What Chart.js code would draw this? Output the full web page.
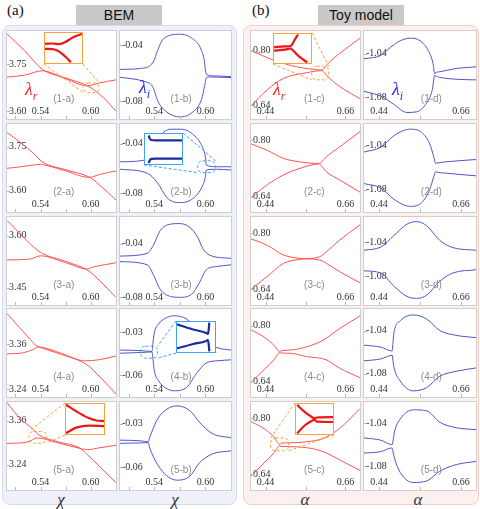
<!DOCTYPE html>
<html>
<head>
<meta charset="utf-8">
<script src="https://cdn.jsdelivr.net/npm/chart.js@4.4.1/dist/chart.umd.min.js"></script>
<style>
body { margin: 0; width: 480px; height: 509px; position: relative; overflow: hidden; background: #fff; font-family: "Liberation Sans", Arial, sans-serif; }
.bg { position: absolute; top: 25px; height: 480px; border-radius: 8px; box-sizing: border-box; }
.title { position: absolute; top: 5px; height: 20px; width: 86px; background: #c9c9c9; text-align: center; line-height: 20px; font-size: 14px; color: #111; }
.serif { font-family: "Liberation Serif", "DejaVu Serif", serif; }
.tag { position: absolute; top: 2px; font-size: 15px; color: #111; }
.box { position: absolute; box-sizing: border-box; border: 1px solid #cfcfcf; background: #fff; }
.box canvas { position: absolute; left: 0; top: 0; }
.sub { position: absolute; font-size: 10px; color: #8c8c8c; transform: translateX(-50%); white-space: nowrap; }
.lam { position: absolute; font-style: italic; font-size: 18px; }
.lam sub { font-size: 12px; }
.ax { position: absolute; top: 490px; font-style: italic; font-size: 17px; color: #333; transform: translateX(-50%); }
.inset { position: absolute; box-sizing: border-box; background: #fff; }
</style>
</head>
<body>
<div class="bg" style="left:2px;width:235px;background:#eef0fa;border:1px solid #d6dbef"></div>
<div class="bg" style="left:243px;width:236px;background:#fdf1ef;border:1px solid #f2cfc8"></div>
<div class="tag serif" style="left:7px">(a)</div>
<div class="tag serif" style="left:252px">(b)</div>
<div class="title" style="left:76px">BEM</div>
<div class="title" style="left:318px">Toy model</div>
<div class="ax serif" style="left:61px">χ</div>
<div class="ax serif" style="left:175px">χ</div>
<div class="ax serif" style="left:305px">α</div>
<div class="ax serif" style="left:418px">α</div>

<script>
// axis ticks
const bemXTicks = [0.54, 0.60];
const toyXTicks = [0.44, 0.66];
const bemXMarks = [0.51, 0.54, 0.57, 0.60];
const toyXMarks = [0.44, 0.55, 0.66];
const aYTicks = [[3.60, 3.75], [3.60, 3.75], [3.45, 3.60], [3.24, 3.36], [3.24, 3.36]];
const bYTicks = [[-0.08, -0.04], [-0.08, -0.04], [-0.08, -0.04], [-0.06, -0.03], [-0.06, -0.03]];
const cYTicks = [0.64, 0.80];
const dYTicks = [-1.08, -1.04];
const aYRange = [[3.575, 3.856], [3.527, 3.827], [3.400, 3.654], [3.219, 3.455], [3.171, 3.411]];
const bYRange = [[-0.0928, -0.030], [-0.095, -0.024], [-0.0856, -0.0201], [-0.0749, -0.0140], [-0.0758, -0.0149]];
const cYRange = [[0.6005, 0.8545], [0.5967, 0.845], [0.5953, 0.8466], [0.594, 0.848], [0.5953, 0.8466]];
const dYRange = [[-1.100, -1.019], [-1.1004, -1.0204], [-1.1135, -1.0106], [-1.1018, -1.020], [-1.1021, -1.0203]];

// BEM, real parts
const a1r1 = [[0.500,3.847],[0.521,3.793],[0.542,3.734],[0.570,3.706],[0.598,3.678],[0.615,3.643],[0.630,3.600]];
const a1r2 = [[0.500,3.709],[0.521,3.715],[0.542,3.729],[0.570,3.703],[0.596,3.681],[0.601,3.683],[0.610,3.690],[0.630,3.700]];
const a2r1 = [[0.500,3.798],[0.516,3.764],[0.532,3.726],[0.542,3.698],[0.570,3.671],[0.600,3.643],[0.610,3.620],[0.630,3.568]];
const a2r2 = [[0.500,3.676],[0.516,3.681],[0.540,3.689],[0.548,3.685],[0.570,3.667],[0.598,3.645],[0.603,3.648],[0.612,3.656],[0.630,3.667]];
const a3r1 = [[0.500,3.644],[0.516,3.605],[0.532,3.567],[0.542,3.549],[0.570,3.526],[0.595,3.502],[0.601,3.492],[0.630,3.422]];
const a3r2 = [[0.500,3.530],[0.528,3.533],[0.540,3.542],[0.570,3.522],[0.596,3.504],[0.602,3.509],[0.630,3.522]];
const a4r1 = [[0.500,3.443],[0.515,3.405],[0.525,3.380],[0.534,3.358],[0.5375,3.354],[0.565,3.333],[0.595,3.306],[0.612,3.270],[0.630,3.227]];
const a4r2 = [[0.500,3.3345],[0.520,3.338],[0.5316,3.347],[0.5375,3.353],[0.565,3.336],[0.5925,3.316],[0.610,3.319],[0.630,3.329]];
const a5r1 = [[0.500,3.409],[0.516,3.365],[0.5305,3.338],[0.5375,3.322],[0.560,3.303],[0.587,3.285],[0.596,3.267],[0.610,3.236],[0.630,3.191]];
const a5r2 = [[0.500,3.298],[0.525,3.302],[0.536,3.313],[0.560,3.300],[0.590,3.283],[0.596,3.281],[0.610,3.286],[0.630,3.293]];

// BEM, imaginary parts
const b1i1 = [[0.500,-0.0574],[0.524,-0.0567],[0.539,-0.0521],[0.544,-0.0439],[0.551,-0.0355],[0.570,-0.0323],[0.585,-0.0355],[0.5955,-0.0439],[0.599,-0.0521],[0.600,-0.0580],[0.602,-0.0614],[0.613,-0.0621],[0.630,-0.0626]];
const b1i2 = [[0.500,-0.0630],[0.528,-0.0660],[0.538,-0.0695],[0.545,-0.0809],[0.555,-0.0879],[0.570,-0.0913],[0.585,-0.0879],[0.5955,-0.0788],[0.599,-0.0695],[0.601,-0.0635],[0.605,-0.0628],[0.630,-0.0632]];
const b2i1 = [[0.500,-0.0545],[0.528,-0.0532],[0.539,-0.0427],[0.547,-0.0335],[0.559,-0.0282],[0.572,-0.0282],[0.585,-0.0321],[0.5966,-0.0427],[0.600,-0.0506],[0.601,-0.0571],[0.613,-0.0585],[0.630,-0.0585]];
const b2i2 = [[0.500,-0.0605],[0.532,-0.0637],[0.544,-0.0716],[0.555,-0.0834],[0.568,-0.0874],[0.584,-0.0848],[0.5955,-0.0755],[0.600,-0.0664],[0.601,-0.0611],[0.613,-0.0605],[0.630,-0.0611]];
const b3i1 = [[0.500,-0.0492],[0.532,-0.0472],[0.539,-0.0412],[0.547,-0.0303],[0.559,-0.0254],[0.570,-0.0250],[0.582,-0.0279],[0.591,-0.0352],[0.597,-0.0436],[0.605,-0.0485],[0.630,-0.0509]];
const b3i2 = [[0.500,-0.0533],[0.532,-0.0557],[0.539,-0.0630],[0.547,-0.0739],[0.559,-0.0792],[0.570,-0.0799],[0.584,-0.0775],[0.593,-0.0690],[0.601,-0.0594],[0.613,-0.0570],[0.630,-0.0557]];
const b4i1 = [[0.500,-0.0424],[0.525,-0.0428],[0.5375,-0.0434],[0.5385,-0.038],[0.540,-0.031],[0.545,-0.0245],[0.553,-0.0205],[0.563,-0.0187],[0.578,-0.0209],[0.593,-0.030],[0.605,-0.038],[0.615,-0.041],[0.630,-0.0424]];
const b4i2 = [[0.500,-0.0446],[0.525,-0.0441],[0.5375,-0.0437],[0.5385,-0.048],[0.540,-0.056],[0.545,-0.0635],[0.553,-0.0685],[0.563,-0.0706],[0.578,-0.0683],[0.590,-0.0582],[0.601,-0.0514],[0.615,-0.0498],[0.630,-0.0492]];
const b5i1 = [[0.500,-0.0413],[0.525,-0.0418],[0.533,-0.0425],[0.5345,-0.040],[0.537,-0.036],[0.544,-0.0266],[0.555,-0.0198],[0.567,-0.0176],[0.582,-0.021],[0.593,-0.0289],[0.608,-0.0367],[0.630,-0.0397]];
const b5i2 = [[0.500,-0.0435],[0.525,-0.0432],[0.533,-0.0430],[0.5345,-0.046],[0.537,-0.050],[0.544,-0.0582],[0.555,-0.0661],[0.567,-0.069],[0.582,-0.0661],[0.593,-0.057],[0.608,-0.0509],[0.630,-0.0487]];

// toy model, real parts
const c1r1 = [[0.40,0.798],[0.463,0.770],[0.526,0.751],[0.571,0.744],[0.594,0.742],[0.599,0.744],[0.605,0.752],[0.616,0.765],[0.643,0.789],[0.70,0.834]];
const c1r2 = [[0.40,0.638],[0.445,0.685],[0.49,0.718],[0.553,0.734],[0.594,0.740],[0.599,0.738],[0.605,0.730],[0.616,0.718],[0.643,0.695],[0.70,0.659]];
const c2r1 = [[0.40,0.789],[0.445,0.7705],[0.49,0.7476],[0.535,0.7382],[0.589,0.7335],[0.594,0.738],[0.607,0.752],[0.643,0.7796],[0.70,0.8238]];
const c2r2 = [[0.40,0.6372],[0.445,0.6739],[0.49,0.7015],[0.535,0.720],[0.589,0.7325],[0.594,0.727],[0.607,0.7106],[0.643,0.6877],[0.70,0.6527]];
const c3r1 = [[0.40,0.7843],[0.445,0.7656],[0.49,0.7377],[0.535,0.7285],[0.589,0.7238],[0.607,0.7145],[0.643,0.6911],[0.70,0.6587]];
const c3r2 = [[0.40,0.640],[0.445,0.6771],[0.49,0.7145],[0.535,0.7257],[0.589,0.7330],[0.607,0.7469],[0.643,0.7796],[0.70,0.8243]];
const c4r1 = [[0.40,0.7879],[0.436,0.767],[0.463,0.7436],[0.4792,0.7247],[0.483,0.7275],[0.508,0.7295],[0.553,0.7388],[0.598,0.7577],[0.643,0.7907],[0.70,0.8282]];
const c4r2 = [[0.40,0.6355],[0.436,0.673],[0.463,0.7013],[0.4792,0.7225],[0.483,0.7210],[0.508,0.7202],[0.553,0.7106],[0.607,0.7013],[0.643,0.6778],[0.70,0.6496]];
const c5r1 = [[0.40,0.7908],[0.436,0.7704],[0.463,0.7469],[0.4792,0.7257],[0.483,0.729],[0.508,0.7302],[0.553,0.733],[0.598,0.7425],[0.643,0.7704],[0.70,0.8279]];
const c5r2 = [[0.40,0.6352],[0.436,0.6727],[0.463,0.7006],[0.4792,0.7218],[0.483,0.7195],[0.508,0.719],[0.553,0.7162],[0.598,0.705],[0.643,0.6819],[0.70,0.6512]];

// toy model, imaginary parts
const d1i1 = [[0.40,-1.0445],[0.445,-1.0415],[0.471,-1.034],[0.497,-1.028],[0.524,-1.0256],[0.55,-1.028],[0.572,-1.037],[0.585,-1.049],[0.5895,-1.0586],[0.5905,-1.0578],[0.603,-1.0565],[0.647,-1.0535],[0.70,-1.052]];
const d1i2 = [[0.40,-1.0745],[0.445,-1.079],[0.48,-1.0865],[0.515,-1.094],[0.541,-1.0934],[0.568,-1.085],[0.583,-1.073],[0.5895,-1.0596],[0.5905,-1.060],[0.603,-1.0616],[0.647,-1.0634],[0.70,-1.064]];
const d2i1 = [[0.40,-1.0459],[0.445,-1.0415],[0.48,-1.031],[0.524,-1.0251],[0.5545,-1.0281],[0.576,-1.0384],[0.587,-1.0504],[0.592,-1.0562],[0.594,-1.0560],[0.620,-1.0548],[0.70,-1.0527]];
const d2i2 = [[0.40,-1.0746],[0.445,-1.0785],[0.48,-1.0888],[0.524,-1.0953],[0.5545,-1.0918],[0.576,-1.080],[0.587,-1.0681],[0.592,-1.0637],[0.594,-1.0640],[0.620,-1.0651],[0.70,-1.0675]];
const d3i1 = [[0.40,-1.0495],[0.445,-1.0457],[0.48,-1.0323],[0.515,-1.019],[0.541,-1.016],[0.568,-1.0209],[0.603,-1.038],[0.638,-1.0464],[0.70,-1.0495]];
const d3i2 = [[0.40,-1.0735],[0.445,-1.0761],[0.48,-1.0914],[0.515,-1.1035],[0.541,-1.1058],[0.568,-1.102],[0.603,-1.0857],[0.638,-1.0761],[0.70,-1.0723]];
const d4i1 = [[0.40,-1.0536],[0.445,-1.0555],[0.4755,-1.059],[0.4775,-1.052],[0.4797,-1.043],[0.4974,-1.0309],[0.532,-1.0255],[0.568,-1.0294],[0.603,-1.040],[0.647,-1.0445],[0.70,-1.0466]];
const d4i2 = [[0.40,-1.0682],[0.445,-1.0664],[0.4755,-1.063],[0.4775,-1.068],[0.4797,-1.0734],[0.4974,-1.087],[0.532,-1.0961],[0.568,-1.093],[0.603,-1.0825],[0.647,-1.0779],[0.70,-1.0748]];
const d5i1 = [[0.40,-1.0537],[0.445,-1.0558],[0.4755,-1.060],[0.478,-1.056],[0.4816,-1.0482],[0.4974,-1.036],[0.532,-1.0276],[0.568,-1.0285],[0.603,-1.0391],[0.647,-1.0442],[0.70,-1.046]];
const d5i2 = [[0.40,-1.0678],[0.445,-1.0664],[0.4755,-1.063],[0.478,-1.067],[0.4816,-1.0724],[0.4974,-1.086],[0.532,-1.0951],[0.568,-1.0937],[0.603,-1.0846],[0.647,-1.0785],[0.70,-1.0755]];

// zoomed insets (arbitrary 0..1 units)
const in1aUp = [[0,0.64],[0.2,0.65],[0.4,0.63],[0.55,0.7],[0.75,0.85],[1,0.97]];
const in1aLo = [[0,0.47],[0.2,0.46],[0.3,0.43],[0.45,0.32],[0.6,0.15],[0.7,0.03]];
const in2bUp = [[0.1,0.95],[0.13,0.85],[0.17,0.8],[0.3,0.79],[1,0.79]];
const in2bLo = [[0.1,0.03],[0.13,0.12],[0.17,0.17],[0.3,0.18],[1,0.18]];
const in4bUp = [[0,0.92],[0.4,0.76],[0.77,0.63],[0.81,0.60],[0.835,0.75],[0.85,0.98]];
const in4bLo = [[0,0.12],[0.4,0.26],[0.77,0.37],[0.81,0.40],[0.835,0.25],[0.85,0.02]];
const in5aUp = [[0,0.98],[0.29,0.74],[0.58,0.54],[0.8,0.45],[1,0.43]];
const in5aLo = [[0,0.03],[0.29,0.22],[0.6,0.28],[1,0.26]];
const in1cUp = [[0,0.55],[0.3,0.57],[0.45,0.58],[0.5,0.66],[0.58,0.85],[0.65,0.98]];
const in1cLo = [[0,0.43],[0.3,0.46],[0.45,0.5],[0.5,0.45],[0.7,0.2],[0.9,0.02]];
const in5cUp = [[0.03,0.97],[0.25,0.72],[0.45,0.55],[0.5,0.52],[0.56,0.55],[1,0.56]];
const in5cLo = [[0.03,0.02],[0.25,0.3],[0.45,0.45],[0.5,0.48],[0.56,0.41],[1,0.4]];

const curves = [
  [[a1r1,a1r2],[b1i1,b1i2],[c1r1,c1r2],[d1i1,d1i2]],
  [[a2r1,a2r2],[b2i1,b2i2],[c2r1,c2r2],[d2i1,d2i2]],
  [[a3r1,a3r2],[b3i1,b3i2],[c3r1,c3r2],[d3i1,d3i2]],
  [[a4r1,a4r2],[b4i1,b4i2],[c4r1,c4r2],[d4i1,d4i2]],
  [[a5r1,a5r2],[b5i1,b5i2],[c5r1,c5r2],[d5i1,d5i2]]
];

const insets = {
  '1-a': {box:{x:37,y:1,w:39,h:32}, region:[0.591,0.610,3.659,3.690], links:[['bl','bl'],['br','tr']], up:in1aUp, lo:in1aLo, blue:false},
  '2-b': {box:{x:24,y:9,w:39,h:32}, region:[0.591,0.612,-0.0632,-0.0537], links:[['tr','tr'],['bl','bl']], up:in2bUp, lo:in2bLo, blue:true},
  '4-b': {box:{x:56,y:12,w:40,h:32}, region:[0.524,0.544,-0.048,-0.0397], links:[['tl','tr'],['bl','br']], up:in4bUp, lo:in4bLo, blue:true},
  '5-a': {box:{x:58,y:1,w:40,h:32}, region:[0.526,0.547,3.2987,3.3307], links:[['tl','tl'],['bl','br']], up:in5aUp, lo:in5aLo, blue:false},
  '1-c': {box:{x:22,y:2,w:39,h:31}, region:[0.567,0.614,0.7134,0.7529], links:[['tr','tr'],['bl','bl']], up:in1cUp, lo:in1cLo, blue:false},
  '5-c': {box:{x:44,y:1,w:39,h:32}, region:[0.454,0.5035,0.707,0.7441], links:[['tl','tl'],['br','br']], up:in5cUp, lo:in5cLo, blue:false}
};

const cols = [{x:6,w:111},{x:119,w:113},{x:250,w:111},{x:363,w:114}];
const subPos = [0.52, 0.55, 0.58, 0.60];
const rowTops = [30,123,216,308,401];
const rowH = 90;

function toXY(arr) { return arr.map(p => ({x: p[0], y: p[1]})); }

// small inward tick marks on the bottom and left frame
function edgeTicks(xm, ym) {
  return {
    id: 'edgeTicks',
    afterDraw(chart) {
      const {ctx, scales, chartArea} = chart;
      ctx.save();
      ctx.strokeStyle = '#b5b5b5';
      ctx.lineWidth = 1;
      ctx.beginPath();
      xm.forEach(v => {
        const px = Math.round(scales.x.getPixelForValue(v)) + 0.5;
        ctx.moveTo(px, chartArea.bottom);
        ctx.lineTo(px, chartArea.bottom - 3);
      });
      ym.forEach(v => {
        const py = Math.round(scales.y.getPixelForValue(v)) + 0.5;
        ctx.moveTo(chartArea.left, py);
        ctx.lineTo(chartArea.left + 3, py);
      });
      ctx.stroke();
      ctx.restore();
    }
  };
}

function insetLines(ins) {
  return {
    id: 'insetLines',
    afterDatasetsDraw(chart) {
      const {ctx, scales} = chart;
      const x0 = scales.x.getPixelForValue(ins.region[0]);
      const x1 = scales.x.getPixelForValue(ins.region[1]);
      const y0 = scales.y.getPixelForValue(ins.region[3]);
      const y1 = scales.y.getPixelForValue(ins.region[2]);
      const r = {x: x0, y: y0, w: x1 - x0, h: y1 - y0};
      const pt = (q, c) => [c[1] === 'l' ? q.x : q.x + q.w, c[0] === 't' ? q.y : q.y + q.h];
      ctx.save();
      ctx.strokeStyle = ins.blue ? '#3fa2f2' : '#f5a33a';
      ctx.lineWidth = 1;
      ctx.setLineDash([3, 2]);
      ctx.beginPath();
      ctx.roundRect(r.x, r.y, r.w, r.h, 5);
      ctx.stroke();
      ins.links.forEach(l => {
        const p = pt(ins.box, l[0]), q = pt(r, l[1]);
        ctx.beginPath();
        ctx.moveTo(p[0], p[1]);
        ctx.lineTo(q[0], q[1]);
        ctx.stroke();
      });
      ctx.restore();
    }
  };
}

const tickFont = {family: '"Liberation Serif", "DejaVu Serif", serif', size: 10};

function makePanel(row, col) {
  const L = cols[col];
  const name = (row + 1) + '-' + 'abcd'[col];
  const box = document.createElement('div');
  box.className = 'box';
  box.style.left = L.x + 'px';
  box.style.top = rowTops[row] + 'px';
  box.style.width = L.w + 'px';
  box.style.height = rowH + 'px';
  const cv = document.createElement('canvas');
  cv.width = L.w - 2;
  cv.height = rowH - 2;
  box.appendChild(cv);
  document.body.appendChild(box);

  const isBem = col < 2;
  const isReal = col % 2 === 0;
  const xr = isBem ? [0.50, 0.63] : [0.40, 0.70];
  const xt = isBem ? bemXTicks : toyXTicks;
  const xm = isBem ? bemXMarks : toyXMarks;
  const yr = [aYRange, bYRange, cYRange, dYRange][col][row];
  const yt = [aYTicks[row], bYTicks[row], cYTicks, dYTicks][col];
  const color = isReal ? '#ff5252' : '#5353c6';
  const ins = insets[name];
  const plugins = [edgeTicks(xm, yt)];
  if (ins) plugins.push(insetLines(ins));

  new Chart(cv, {
    type: 'line',
    data: {
      datasets: curves[row][col].map(c => ({
        data: toXY(c), borderColor: color, borderWidth: 1, pointRadius: 0,
        cubicInterpolationMode: 'monotone', fill: false
      }))
    },
    options: {
      responsive: false, animation: false, events: [],
      layout: {padding: 0},
      plugins: {legend: {display: false}, tooltip: {enabled: false}},
      scales: {
        x: {
          type: 'linear', min: xr[0], max: xr[1],
          border: {display: false}, grid: {display: false, drawTicks: false},
          afterBuildTicks: s => { s.ticks = xt.map(v => ({value: v})); },
          afterFit: s => { s.height = 0; s.paddingLeft = 0; s.paddingRight = 0; s.paddingTop = 0; s.paddingBottom = 0; },
          ticks: {mirror: true, padding: 2, font: tickFont, color: '#333', maxRotation: 0, autoSkip: false,
                  callback: v => v.toFixed(2)}
        },
        y: {
          type: 'linear', min: yr[0], max: yr[1],
          border: {display: false}, grid: {display: false, drawTicks: false},
          afterBuildTicks: s => { s.ticks = yt.map(v => ({value: v})); },
          afterFit: s => { s.width = 0; s.paddingLeft = 0; s.paddingRight = 0; s.paddingTop = 0; s.paddingBottom = 0; },
          ticks: {mirror: true, padding: 2, font: tickFont, color: '#333', autoSkip: false,
                  callback: v => v.toFixed(2)}
        }
      }
    },
    plugins: plugins
  });

  const sub = document.createElement('div');
  sub.className = 'sub';
  sub.textContent = '(' + name + ')';
  sub.style.left = (L.x + L.w * subPos[col]) + 'px';
  sub.style.top = (rowTops[row] + 63) + 'px';
  document.body.appendChild(sub);

  if (ins) {
    const d = document.createElement('div');
    d.className = 'inset';
    d.style.left = ins.box.x + 'px';
    d.style.top = ins.box.y + 'px';
    d.style.width = ins.box.w + 'px';
    d.style.height = ins.box.h + 'px';
    d.style.border = '1px solid ' + (ins.blue ? '#3fa2f2' : '#f5a33a');
    const c2 = document.createElement('canvas');
    c2.width = ins.box.w - 2;
    c2.height = ins.box.h - 2;
    d.appendChild(c2);
    box.appendChild(d);
    new Chart(c2, {
      type: 'line',
      data: {
        datasets: [ins.up, ins.lo].map(c => ({
          data: toXY(c), borderColor: ins.blue ? '#1b2b9e' : '#ee1616', borderWidth: 2.2,
          pointRadius: 0, cubicInterpolationMode: 'monotone', fill: false
        }))
      },
      options: {
        responsive: false, animation: false, events: [],
        plugins: {legend: {display: false}, tooltip: {enabled: false}},
        scales: {
          x: {type: 'linear', display: false, min: 0, max: 1},
          y: {type: 'linear', display: false, min: 0, max: 1}
        }
      }
    });
  }
}

for (let r = 0; r < 5; r++) {
  for (let c = 0; c < 4; c++) makePanel(r, c);
}

// eigenvalue symbols in the first row
const lams = [
  {left: 25, top: 79, color: '#ff2a2a', s: 'r'},
  {left: 139, top: 77, color: '#2a2af0', s: 'i'},
  {left: 273, top: 79, color: '#ff2a2a', s: 'r'},
  {left: 392, top: 79, color: '#2a2af0', s: 'i'}
];
lams.forEach(l => {
  const d = document.createElement('div');
  d.className = 'lam serif';
  d.style.left = l.left + 'px';
  d.style.top = l.top + 'px';
  d.style.color = l.color;
  d.innerHTML = 'λ<sub>' + l.s + '</sub>';
  document.body.appendChild(d);
});
</script>
</body>
</html>
